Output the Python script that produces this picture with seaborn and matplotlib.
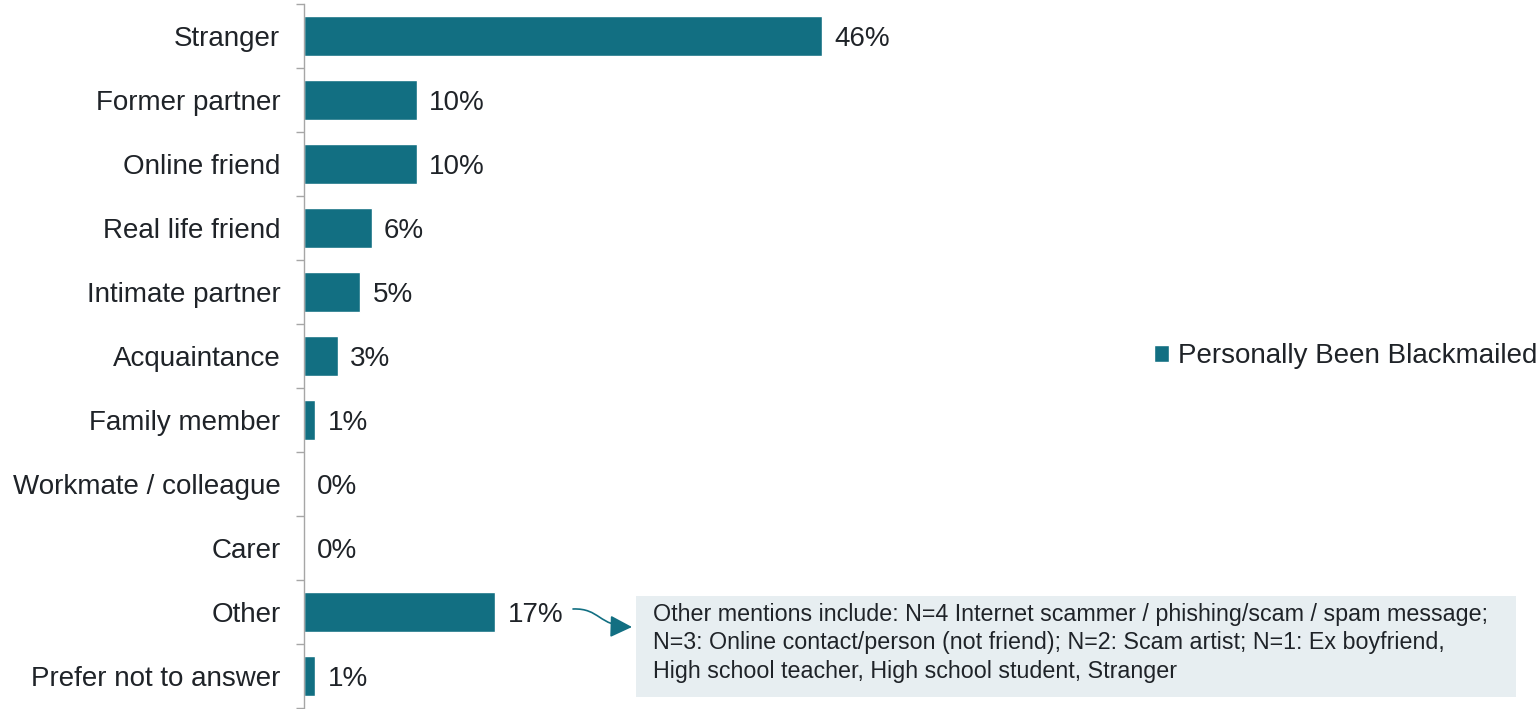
import numpy as np
import pandas as pd
import matplotlib
matplotlib.use("Agg")
import matplotlib.pyplot as plt
import seaborn as sns
from matplotlib.patches import Rectangle, FancyArrowPatch
from matplotlib.path import Path

# Data
categories = ["Stranger", "Former partner", "Online friend", "Real life friend",
              "Intimate partner", "Acquaintance", "Family member",
              "Workmate / colleague", "Carer", "Other", "Prefer not to answer"]
values = [46, 10, 10, 6, 5, 3, 1, 0, 0, 17, 1]
series_name = "Personally Been Blackmailed"
note_lines = ["Other mentions include: N=4 Internet scammer / phishing/scam / spam message;",
              "N=3: Online contact/person (not friend); N=2: Scam artist; N=1: Ex boyfriend,",
              "High school teacher, High school student, Stranger"]

bar_color = "#126f82"
text_color = "#1f2328"
W, H = 1537, 709

sns.set_style("white")
plt.rcParams['font.family'] = ['Liberation Sans', 'DejaVu Sans']

df = pd.DataFrame({"category": categories, "value": values, "series": series_name})

fig = plt.figure(figsize=(W / 100, H / 100), dpi=100)
ax = fig.add_axes([304 / W, 1 - 708 / H, 1 - 304 / W, 704 / H])

sns.barplot(data=df, x="value", y="category", hue="series", palette=[bar_color],
            orient="h", width=0.62, ax=ax, saturation=1)

ax.set_xlim(0, (W - 304) / 11.26)
ax.set_ylim(len(categories) - 0.5, -0.5)
ax.set_xlabel("")
ax.set_ylabel("")
ax.set_xticks([])
for s in ["top", "right", "bottom"]:
    ax.spines[s].set_visible(False)
ax.spines["left"].set_color("#a6a6a6")
ax.spines["left"].set_linewidth(1.0)

ax.set_yticks(range(len(categories)))
ax.set_yticklabels(categories, fontsize=20, color=text_color)
ax.tick_params(axis="y", which="major", left=False, length=0, pad=17)
ax.set_yticks(np.arange(-0.5, len(categories)), minor=True)
ax.tick_params(axis="y", which="minor", left=True, length=6, color="#a6a6a6",
               width=1.0, direction="out")

for c in ax.containers:
    labs = ax.bar_label(c, labels=[f"{v}%" for v in values], padding=9,
                        fontsize=20, color=text_color)
    for t in labs:
        # value labels sit a touch below the bar centre in the original
        t.xyann = (t.xyann[0], t.xyann[1] - 2.5)

leg = ax.legend(loc="center right", bbox_to_anchor=(1.0, 0.5), frameon=False,
                fontsize=20, handlelength=0.55, handleheight=0.55, handletextpad=0.3,
                borderaxespad=0, borderpad=0)
for t in leg.get_texts():
    t.set_color(text_color)

# note box
fig.patches.append(Rectangle((636 / W, 1 - 697 / H), 880 / W, 101 / H,
                             transform=fig.transFigure, facecolor="#e7eef1",
                             edgecolor="none", zorder=0))
fig.text(653 / W, 1 - 603 / H, "\n".join(note_lines), fontsize=16.75,
         color=text_color, va="top", ha="left", linespacing=1.3)

# curved arrow from the 17% label to the note box
verts = [(573, 609), (600, 608), (598, 626), (632, 627)]
verts = [(x / W, 1 - y / H) for x, y in verts]
arrow_path = Path(verts, [Path.MOVETO, Path.CURVE4, Path.CURVE4, Path.CURVE4])
fig.patches.append(FancyArrowPatch(path=arrow_path, transform=fig.transFigure,
                                   arrowstyle="-|>,head_length=0.9,head_width=0.45",
                                   mutation_scale=15, color=bar_color, lw=1.2))

fig.savefig("out.png", dpi=100)
